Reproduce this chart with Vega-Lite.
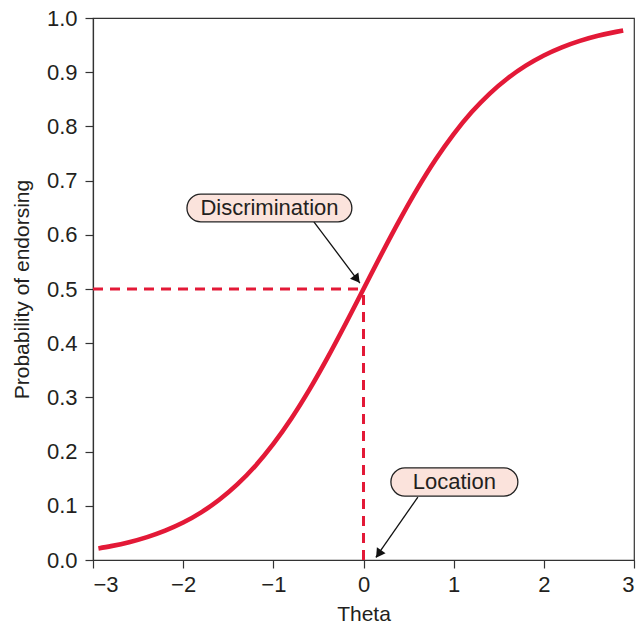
{
  "$schema": "https://vega.github.io/schema/vega-lite/v6.json",
  "width": 541,
  "height": 542,
  "autosize": {"type": "none"},
  "padding": {"left": 93, "top": 18, "right": 4, "bottom": 63},
  "background": "white",
  "config": {
    "view": {"stroke": "#333", "strokeWidth": 1.2},
    "font": "Liberation Sans",
    "axis": {
      "grid": false,
      "domainColor": "#333",
      "domainWidth": 1.2,
      "tickColor": "#333",
      "tickWidth": 1.2,
      "tickSize": 8,
      "labelFont": "Liberation Sans",
      "labelFontSize": 22,
      "labelColor": "#231f20",
      "titleFont": "Liberation Sans",
      "titleFontSize": 21,
      "titleFontWeight": "normal",
      "titleColor": "#231f20"
    }
  },
  "datasets": {
    "curve": [
      {"theta": -2.94, "p": 0.0214},
      {"theta": -2.8, "p": 0.0256},
      {"theta": -2.6, "p": 0.0329},
      {"theta": -2.4, "p": 0.0423},
      {"theta": -2.2, "p": 0.0542},
      {"theta": -2.0, "p": 0.0691},
      {"theta": -1.8, "p": 0.0879},
      {"theta": -1.6, "p": 0.1111},
      {"theta": -1.4, "p": 0.1394},
      {"theta": -1.2, "p": 0.1736},
      {"theta": -1.0, "p": 0.2142},
      {"theta": -0.8, "p": 0.2611},
      {"theta": -0.6, "p": 0.3143},
      {"theta": -0.4, "p": 0.3729},
      {"theta": -0.2, "p": 0.4354},
      {"theta": 0.0, "p": 0.5},
      {"theta": 0.2, "p": 0.5646},
      {"theta": 0.4, "p": 0.6271},
      {"theta": 0.6, "p": 0.6857},
      {"theta": 0.8, "p": 0.7389},
      {"theta": 1.0, "p": 0.7858},
      {"theta": 1.2, "p": 0.8264},
      {"theta": 1.4, "p": 0.8606},
      {"theta": 1.6, "p": 0.8889},
      {"theta": 1.8, "p": 0.9121},
      {"theta": 2.0, "p": 0.9309},
      {"theta": 2.2, "p": 0.9458},
      {"theta": 2.4, "p": 0.9577},
      {"theta": 2.6, "p": 0.9671},
      {"theta": 2.8, "p": 0.9744},
      {"theta": 2.88, "p": 0.9769}
    ],
    "guides": [
      {"x": -3, "x2": 0, "y": 0.5, "y2": 0.5},
      {"x": 0, "x2": 0, "y": 0, "y2": 0.5}
    ],
    "arrows": [
      {"x": -0.55, "y": 0.624, "x2": -0.04, "y2": 0.511},
      {"x": 0.603, "y": 0.116, "x2": 0.137, "y2": 0.005}
    ],
    "heads": [
      {"x": -0.073, "y": 0.518, "angle": 143},
      {"x": 0.168, "y": 0.011, "angle": 214.5}
    ],
    "boxes": [
      {"label": "Discrimination", "x": -1.958, "x2": -0.129, "y": 0.675, "y2": 0.624, "cx": -1.043, "cy": 0.6495},
      {"label": "Location", "x": 0.304, "x2": 1.712, "y": 0.170, "y2": 0.118, "cx": 1.008, "cy": 0.144}
    ]
  },
  "layer": [
    {
      "data": {"name": "guides"},
      "mark": {"type": "rule", "color": "#e31937", "strokeWidth": 3, "strokeDash": [10, 7]},
      "encoding": {
        "x": {"field": "x", "type": "quantitative", "scale": {"domain": [-3, 3], "nice": false}, "axis": {"values": [-3, -2, -1, 0, 1, 2, 3], "format": "d", "title": "Theta", "labelPadding": 6, "titlePadding": 8}},
        "x2": {"field": "x2"},
        "y": {"field": "y", "type": "quantitative", "scale": {"domain": [0, 1], "nice": false}, "axis": {"values": [0, 0.1, 0.2, 0.3, 0.4, 0.5, 0.6, 0.7, 0.8, 0.9, 1.0], "format": ".1f", "title": "Probability of endorsing", "labelPadding": 8, "titlePadding": 14}},
        "y2": {"field": "y2"}
      }
    },
    {
      "data": {"name": "curve"},
      "mark": {"type": "line", "color": "#e31937", "strokeWidth": 4.6, "interpolate": "monotone"},
      "encoding": {
        "x": {"field": "theta", "type": "quantitative"},
        "y": {"field": "p", "type": "quantitative"}
      }
    },
    {
      "data": {"name": "arrows"},
      "mark": {"type": "rule", "color": "#111", "strokeWidth": 1.3},
      "encoding": {
        "x": {"field": "x", "type": "quantitative"},
        "x2": {"field": "x2"},
        "y": {"field": "y", "type": "quantitative"},
        "y2": {"field": "y2"}
      }
    },
    {
      "data": {"name": "heads"},
      "mark": {"type": "point", "shape": "triangle-up", "filled": true, "color": "#111", "size": 110, "opacity": 1},
      "encoding": {
        "x": {"field": "x", "type": "quantitative"},
        "y": {"field": "y", "type": "quantitative"},
        "angle": {"field": "angle", "type": "quantitative", "scale": null}
      }
    },
    {
      "data": {"name": "boxes"},
      "mark": {"type": "rect", "fill": "#fbe3dc", "stroke": "#222", "strokeWidth": 1.3, "cornerRadius": 14},
      "encoding": {
        "x": {"field": "x", "type": "quantitative"},
        "x2": {"field": "x2"},
        "y": {"field": "y", "type": "quantitative"},
        "y2": {"field": "y2"}
      }
    },
    {
      "data": {"name": "boxes"},
      "mark": {"type": "text", "fontSize": 22, "font": "Liberation Sans", "color": "#231f20", "align": "center", "baseline": "middle"},
      "encoding": {
        "x": {"field": "cx", "type": "quantitative"},
        "y": {"field": "cy", "type": "quantitative"},
        "text": {"field": "label"}
      }
    }
  ]
}
